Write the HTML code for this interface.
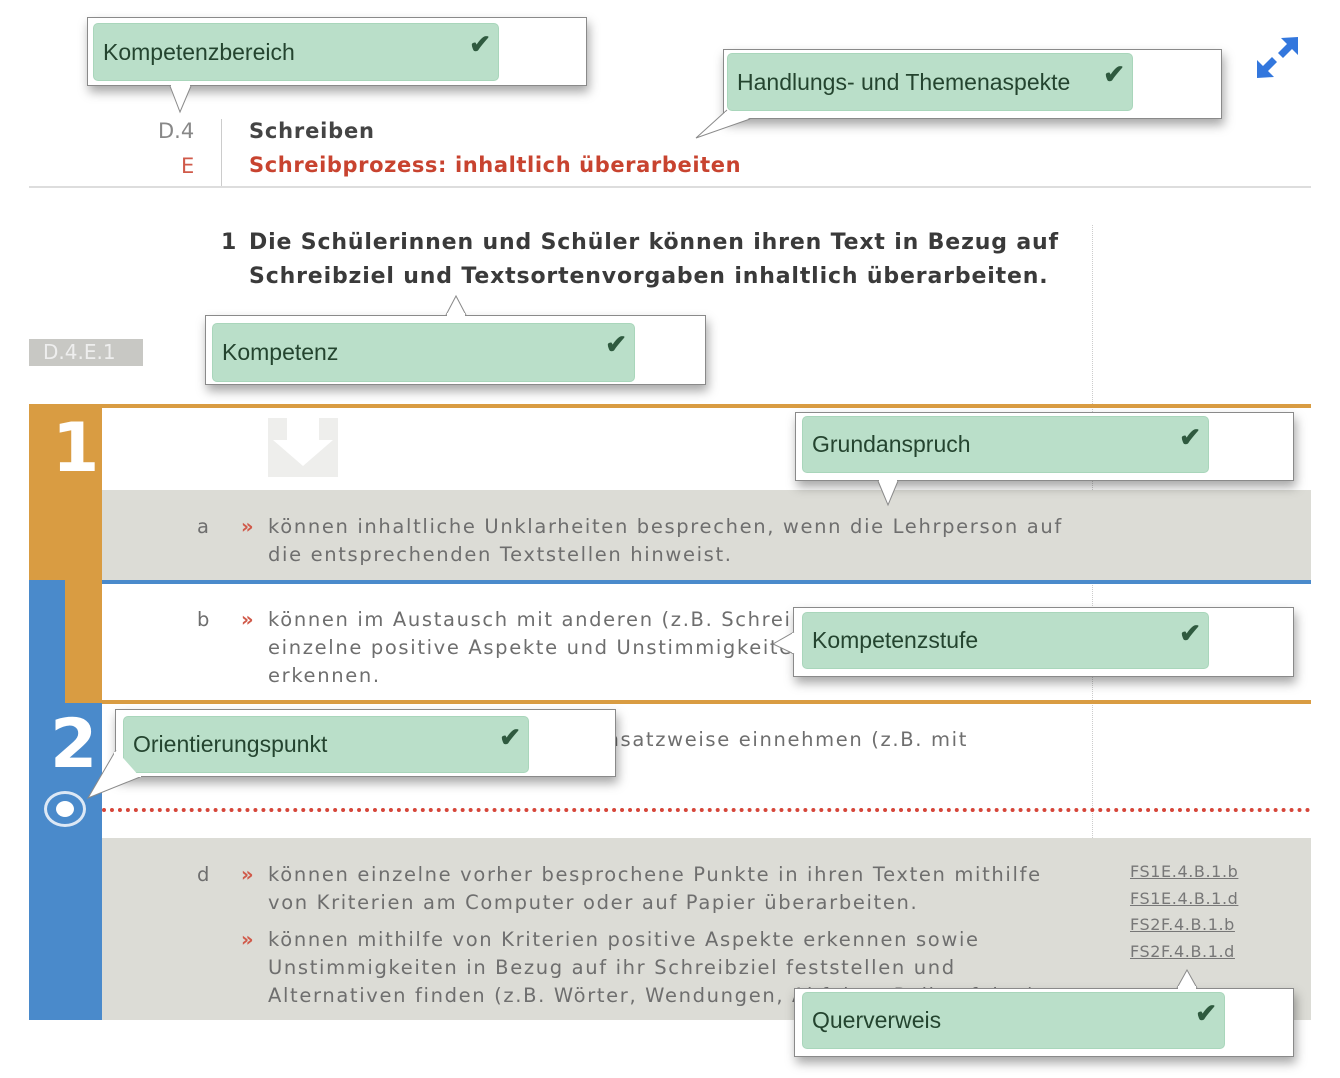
<!DOCTYPE html>
<html><head><meta charset="utf-8">
<style>
*{margin:0;padding:0;box-sizing:border-box}
body{width:1340px;height:1078px;background:#fff;position:relative;overflow:hidden;font-family:"DejaVu Sans","Liberation Sans",sans-serif;}
.a{position:absolute}
.txt{color:#6e6e6e;font-size:19.5px;letter-spacing:1.65px;line-height:28px;font-family:"DejaVu Sans",sans-serif;}
.raq{color:#d05a4a;font-weight:bold}
.co{position:absolute;background:#fff;border:1px solid #8a8a8a;box-shadow:2px 6px 10px rgba(0,0,0,0.35);}
.gr{position:absolute;background:#badfc9;border:1px solid #a9d6bb;border-radius:5px;color:#24442f;font-family:"Liberation Sans",sans-serif;font-size:23px;padding-left:9px;display:flex;align-items:center}
.ck{position:absolute;right:7px;top:5px;color:#2f5a3f;font-size:26px;font-weight:bold}
.ref{color:#777;font-size:16px;text-decoration:underline;letter-spacing:0.6px;line-height:26.5px}
</style></head><body>

<!-- header -->
<div class="a" style="left:158px;top:119px;color:#888;font-size:21px;">D.4</div>
<div class="a" style="left:181px;top:154px;color:#d05a4a;font-size:21px;">E</div>
<div class="a" style="left:221px;top:119px;width:1px;height:68px;background:#ccc"></div>
<div class="a" style="left:249px;top:119px;color:#444;font-size:21px;font-weight:bold;letter-spacing:0.8px">Schreiben</div>
<div class="a" style="left:249px;top:153px;color:#c8432f;font-size:21px;font-weight:bold;letter-spacing:0.6px">Schreibprozess: inhaltlich überarbeiten</div>
<div class="a" style="left:29px;top:186px;width:1282px;height:2px;background:#ddd"></div>

<div class="a" style="left:221px;top:226px;color:#3a3a3a;font-size:22px;font-weight:bold;letter-spacing:0.6px;line-height:34px">1</div>
<div class="a" style="left:249px;top:226px;color:#3a3a3a;font-size:22px;font-weight:bold;letter-spacing:0.85px;line-height:34px;white-space:nowrap">Die Schülerinnen und Schüler können ihren Text in Bezug auf<br>Schreibziel und Textsortenvorgaben inhaltlich überarbeiten.</div>

<div class="a" style="left:29px;top:339px;width:114px;height:27px;background:#c8c8c4;color:#eee;font-size:20px;padding-left:14px;line-height:27px">D.4.E.1</div>

<!-- vertical divider -->
<div class="a" style="left:1092px;top:225px;width:0;height:795px;border-left:1px dotted #ccc"></div>

<!-- table -->
<div class="a" style="left:29px;top:404px;width:1282px;height:4px;background:#d99c42"></div>
<div class="a" style="left:29px;top:404px;width:73px;height:176px;background:#d99c42"></div>
<div class="a" style="left:65px;top:580px;width:37px;height:123px;background:#d99c42"></div>
<div class="a" style="left:29px;top:580px;width:36px;height:440px;background:#4a8acb"></div>
<div class="a" style="left:29px;top:703px;width:73px;height:317px;background:#4a8acb"></div>
<div class="a" style="left:52px;top:404px;color:#fff;font-size:68px;font-weight:bold;line-height:90px">1</div>
<div class="a" style="left:50px;top:700px;color:#fff;font-size:68px;font-weight:bold;line-height:90px">2</div>
<div class="a" style="left:44px;top:791px;width:42px;height:36px;border:3px solid #dde8f5;border-radius:50%"></div>
<div class="a" style="left:56px;top:801px;width:18px;height:16px;background:#fff;border-radius:50%"></div>

<div class="a" style="left:102px;top:490px;width:1209px;height:90px;background:#dcdcd6"></div>
<div class="a" style="left:102px;top:580px;width:1209px;height:4px;background:#4a8acb"></div>
<div class="a" style="left:102px;top:700px;width:1209px;height:4px;background:#d99c42"></div>
<div class="a" style="left:102px;top:808px;width:1209px;height:0;border-top:4px dotted #d6463a"></div>
<div class="a" style="left:102px;top:838px;width:1209px;height:182px;background:#dcdcd6"></div>

<div class="a txt" style="left:197px;top:513px">a</div>
<div class="a txt raq" style="left:241px;top:513px">»</div>
<div class="a txt" style="left:268px;top:513px;white-space:nowrap">können inhaltliche Unklarheiten besprechen, wenn die Lehrperson auf<br>die entsprechenden Textstellen hinweist.</div>

<div class="a txt" style="left:197px;top:606px">b</div>
<div class="a txt raq" style="left:241px;top:606px">»</div>
<div class="a txt" style="left:268px;top:606px;white-space:nowrap">können im Austausch mit anderen (z.B. Schreibkonferenz)<br>einzelne positive Aspekte und Unstimmigkeiten<br>erkennen.</div>

<div class="a txt" style="right:372px;top:726px;white-space:nowrap">können Leserperspektive ansatzweise einnehmen (z.B. mit</div>

<div class="a txt" style="left:197px;top:861px">d</div>
<div class="a txt raq" style="left:241px;top:861px">»</div>
<div class="a txt" style="left:268px;top:861px;white-space:nowrap">können einzelne vorher besprochene Punkte in ihren Texten mithilfe<br>von Kriterien am Computer oder auf Papier überarbeiten.</div>
<div class="a txt raq" style="left:241px;top:926px">»</div>
<div class="a txt" style="left:268px;top:926px;white-space:nowrap">können mithilfe von Kriterien positive Aspekte erkennen sowie<br>Unstimmigkeiten in Bezug auf ihr Schreibziel feststellen und<br>Alternativen finden (z.B. Wörter, Wendungen, Abfolge, Reihenfolge).</div>

<div class="a ref" style="left:1130px;top:859px">FS1E.4.B.1.b<br>FS1E.4.B.1.d<br>FS2F.4.B.1.b<br>FS2F.4.B.1.d</div>

<!-- callouts -->
<div class="co" style="left:87px;top:17px;width:500px;height:69px"></div>
<div class="gr" style="left:93px;top:23px;width:406px;height:58px">Kompetenzbereich<span class="ck">✔</span></div>

<div class="co" style="left:723px;top:49px;width:499px;height:70px"></div>
<div class="gr" style="left:727px;top:53px;width:406px;height:58px">Handlungs- und Themenaspekte<span class="ck">✔</span></div>

<div class="co" style="left:205px;top:315px;width:501px;height:70px"></div>
<div class="gr" style="left:212px;top:323px;width:423px;height:59px">Kompetenz<span class="ck">✔</span></div>

<div class="co" style="left:795px;top:412px;width:499px;height:69px"></div>
<div class="gr" style="left:802px;top:416px;width:407px;height:57px">Grundanspruch<span class="ck">✔</span></div>

<div class="co" style="left:793px;top:607px;width:501px;height:70px"></div>
<div class="gr" style="left:802px;top:612px;width:407px;height:57px">Kompetenzstufe<span class="ck">✔</span></div>

<div class="co" style="left:115px;top:709px;width:501px;height:68px"></div>
<div class="gr" style="left:123px;top:716px;width:406px;height:57px">Orientierungspunkt<span class="ck">✔</span></div>

<div class="co" style="left:794px;top:988px;width:500px;height:69px"></div>
<div class="gr" style="left:802px;top:992px;width:423px;height:57px">Querverweis<span class="ck">✔</span></div>

<svg class="a" style="left:0;top:0" width="1340" height="1078">
 <g fill="#fff" stroke="#8a8a8a" stroke-width="1">
  <path d="M170 86 L180 112 L191 86"/>
  <path d="M750 119 L696 138 L727 110"/>
  <path d="M446 315 L456 296 L466 315"/>
  <path d="M878 481 L888 505 L898 481"/>
  <path d="M794 632 L773 644 L794 654"/>
  <path d="M140 777 L88 798 L116 750"/>
  <path d="M1177 988 L1187 970 L1197 988"/>
 </g>
 <g fill="#fff">
  <rect x="171" y="83" width="19" height="4"/>
  <rect x="725" y="112" width="26" height="6"/>
  <rect x="447" y="313" width="18" height="4"/>
  <rect x="879" y="478" width="18" height="4"/>
  <rect x="792" y="633" width="4" height="20"/>
  <rect x="114" y="752" width="4" height="24"/>
  <rect x="117" y="774" width="24" height="3"/>
  <rect x="1178" y="986" width="18" height="4"/>
 </g>
 <rect x="268" y="418" width="70" height="59" fill="#eeeeec"/>
 <path d="M287 418 h32 v22 h14 l-30 26 l-30 -26 h14z" fill="#fff"/>
 <g fill="#3377dd">
  <path d="M1298 37 L1298 55 L1292 49 L1283 58 L1278 53 L1287 44 L1281 38 Z"/>
  <path d="M1257 78 L1257 60 L1263 66 L1272 57 L1277 62 L1268 71 L1274 77 Z"/>
 </g>
</svg>
</body></html>
